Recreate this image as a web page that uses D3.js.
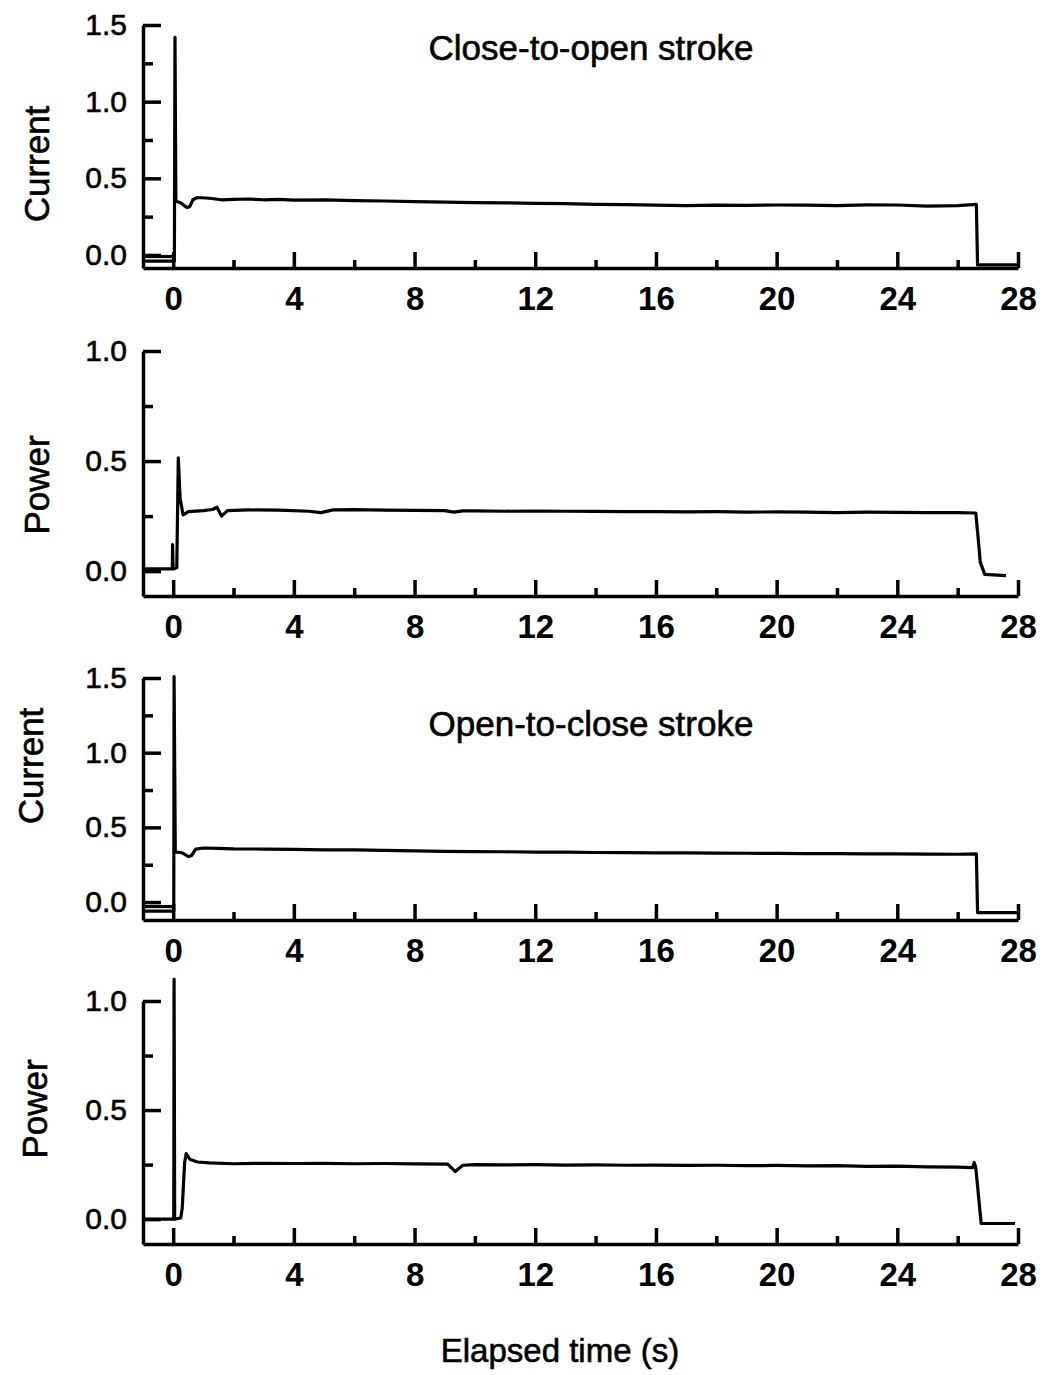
<!DOCTYPE html>
<html>
<head>
<meta charset="utf-8">
<script src="https://cdn.jsdelivr.net/npm/d3@7"></script>
<style>
    body { margin: 0; background: #fff; }
    text { font-family: "Liberation Sans", Arial, sans-serif; fill: #000; }
</style>
</head>
<body>
<svg id="chart" width="1043" height="1375"></svg>
<script>
// tick values
let xMajor = [0, 4, 8, 12, 16, 20, 24, 28];
let xMinor = [2, 6, 10, 14, 18, 22, 26];
let currentMajor = [0, 0.5, 1.0, 1.5];
let currentMinor = [0.25, 0.75, 1.25];
let powerMajor = [0, 0.5, 1.0];
let powerMinor = [0.25, 0.75];

// close-to-open stroke: current (time s, value)
let c2oCurrentPre = [[-1, -0.01], [0, -0.01]];
let c2oCurrent = [[-1, -0.04], [0.04, -0.04], [0.06, 1.42], [0.09, 0.35], [0.25, 0.34], [0.45, 0.31],
    [0.55, 0.315], [0.65, 0.36], [0.8, 0.375], [1.2, 0.37], [1.6, 0.36], [2, 0.362], [2.5, 0.365],
    [3, 0.36], [3.5, 0.362], [4, 0.358], [5, 0.36], [6, 0.355], [7, 0.352], [8, 0.348], [9, 0.345],
    [10, 0.342], [11, 0.34], [12, 0.336], [13, 0.335], [14, 0.33], [15, 0.328], [16, 0.325],
    [17, 0.322], [18, 0.325], [19, 0.323], [20, 0.326], [21, 0.325], [22, 0.322], [23, 0.327],
    [24, 0.326], [25, 0.318], [26, 0.322], [26.62, 0.33], [26.66, -0.065], [28, -0.065]];

// close-to-open stroke: power
let c2oPower = [[-1, 0.01], [-0.03, 0.01], [-0.02, 0.12], [0.0, 0.01], [0.12, 0.015], [0.17, 0.515],
    [0.23, 0.33], [0.33, 0.255], [0.5, 0.27], [1, 0.275], [1.3, 0.28], [1.45, 0.29], [1.6, 0.25],
    [1.8, 0.275], [2.5, 0.278], [3.5, 0.277], [4.5, 0.272], [4.9, 0.266], [5.3, 0.278], [6, 0.279],
    [7, 0.277], [8, 0.276], [9, 0.275], [9.3, 0.268], [9.6, 0.274], [10, 0.274], [11, 0.272],
    [12, 0.273], [13, 0.272], [14, 0.271], [15, 0.27], [16, 0.27], [17, 0.269], [18, 0.27],
    [19, 0.268], [20, 0.269], [21, 0.268], [22, 0.266], [23, 0.268], [24, 0.267], [25, 0.266],
    [26, 0.266], [26.6, 0.264], [26.68, 0.15], [26.75, 0.04], [26.9, -0.015], [27.6, -0.02]];

// open-to-close stroke: current
let o2cCurrentPre = [[-1, -0.03], [0, -0.03]];
let o2cCurrent = [[-1, -0.06], [0.02, -0.06], [0.03, 1.51], [0.07, 0.335], [0.3, 0.33], [0.5, 0.305],
    [0.6, 0.31], [0.75, 0.355], [1, 0.362], [1.5, 0.36], [2, 0.356], [3, 0.355], [4, 0.353],
    [5, 0.35], [6, 0.349], [7, 0.346], [8, 0.343], [9, 0.34], [10, 0.338], [11, 0.337], [12, 0.335],
    [13, 0.334], [14, 0.332], [15, 0.331], [16, 0.33], [17, 0.33], [18, 0.328], [19, 0.327],
    [20, 0.326], [21, 0.325], [22, 0.324], [23, 0.323], [24, 0.322], [25, 0.321], [26, 0.32],
    [26.62, 0.322], [26.66, -0.07], [28, -0.07]];

// open-to-close stroke: power
let o2cPower = [[-1, 0.0], [0.02, 0.0], [0.03, 1.1], [0.05, 0.0], [0.25, 0.005], [0.3, 0.05],
    [0.38, 0.26], [0.43, 0.3], [0.55, 0.275], [0.8, 0.262], [1.2, 0.258], [2, 0.254], [3, 0.256],
    [4, 0.255], [5, 0.256], [6, 0.254], [7, 0.255], [8, 0.253], [9.1, 0.252], [9.35, 0.218],
    [9.6, 0.247], [10, 0.25], [11, 0.249], [12, 0.25], [13, 0.248], [14, 0.249], [15, 0.247],
    [16, 0.248], [17, 0.246], [18, 0.247], [19, 0.245], [20, 0.246], [21, 0.244], [22, 0.245],
    [23, 0.242], [24, 0.243], [25, 0.24], [26, 0.238], [26.5, 0.236], [26.55, 0.26], [26.6, 0.236],
    [26.78, -0.02], [27.9, -0.02]];

let svg = d3.select('#chart');
svg.append('rect').attr('width', 1043).attr('height', 1375).attr('fill', '#fff');

let xScale = d3.scaleLinear().domain([-1, 28]).range([143, 1018]);

let panels = [
    {label: 'Current', labelX: 37, labelY: 164, domain: [-0.085, 1.5], range: [268, 25],
        major: currentMajor, minor: currentMinor, traces: [c2oCurrentPre, c2oCurrent],
        title: 'Close-to-open stroke', titleY: 60},
    {label: 'Power', labelX: 37, labelY: 485, domain: [-0.113, 1.0], range: [596, 351],
        major: powerMajor, minor: powerMinor, traces: [c2oPower]},
    {label: 'Current', labelX: 31, labelY: 766, domain: [-0.12, 1.5], range: [920, 678],
        major: currentMajor, minor: currentMinor, traces: [o2cCurrentPre, o2cCurrent],
        title: 'Open-to-close stroke', titleY: 736},
    {label: 'Power', labelX: 35, labelY: 1109, domain: [-0.114, 1.0], range: [1244, 1001],
        major: powerMajor, minor: powerMinor, traces: [o2cPower]}
];

panels.forEach(function(p)
{
    let yScale = d3.scaleLinear().domain(p.domain).range(p.range);
    let base = p.range[0];
    let g = svg.append('g');

    // x axis, ticks pointing up into the plot
    let xAxis = g.append('g').attr('transform', 'translate(0,' + base + ')')
        .call(d3.axisBottom(xScale).tickValues(xMajor).tickSizeInner(-16).tickSizeOuter(0)
            .tickPadding(19).tickFormat(d3.format('d')));
    g.append('g').attr('transform', 'translate(0,' + base + ')')
        .call(d3.axisBottom(xScale).tickValues(xMinor).tickSizeInner(-8).tickSizeOuter(0)
            .tickFormat(''))
        .select('.domain').remove();
    xAxis.selectAll('text').attr('font-size', 33).attr('font-weight', 'bold');

    // y axis, ticks pointing right
    let yAxisScale = d3.scaleLinear().domain([p.domain[0], p.major[p.major.length - 1]])
        .range([base, yScale(p.major[p.major.length - 1])]);
    let yAxis = g.append('g').attr('transform', 'translate(143,0)')
        .call(d3.axisLeft(yAxisScale).tickValues(p.major).tickSizeInner(-18).tickSizeOuter(0)
            .tickPadding(16).tickFormat(d3.format('.1f')));
    g.append('g').attr('transform', 'translate(143,0)')
        .call(d3.axisLeft(yAxisScale).tickValues(p.minor).tickSizeInner(-10).tickSizeOuter(0)
            .tickFormat(''))
        .select('.domain').remove();
    yAxis.selectAll('text').attr('font-size', 30)
        .attr('stroke', '#000').attr('stroke-width', 0.6);

    g.selectAll('.domain, .tick line').attr('stroke', '#000').attr('stroke-width', 3.5)
        .style('stroke-width', '3.5px');

    let line = d3.line().x(d => xScale(d[0])).y(d => yScale(d[1]));
    p.traces.forEach(function(t)
    {
        g.append('path').datum(t).attr('d', line)
            .attr('fill', 'none').attr('stroke', '#000')
            .attr('stroke-width', 3.2).attr('stroke-linejoin', 'round');
    });

    g.append('text').text(p.label)
        .attr('transform', 'translate(' + (p.labelX + 12) + ',' + p.labelY + ') rotate(-90)')
        .attr('text-anchor', 'middle').attr('font-size', 35)
        .attr('stroke', '#000').attr('stroke-width', 0.6);

    if (p.title)
    {
        g.append('text').text(p.title).attr('x', 591).attr('y', p.titleY)
            .attr('text-anchor', 'middle').attr('font-size', 35)
            .attr('stroke', '#000').attr('stroke-width', 0.6);
    }
});

svg.append('text').text('Elapsed time (s)').attr('x', 560).attr('y', 1362)
    .attr('text-anchor', 'middle').attr('font-size', 33)
    .attr('stroke', '#000').attr('stroke-width', 0.6);
</script>
</body>
</html>
